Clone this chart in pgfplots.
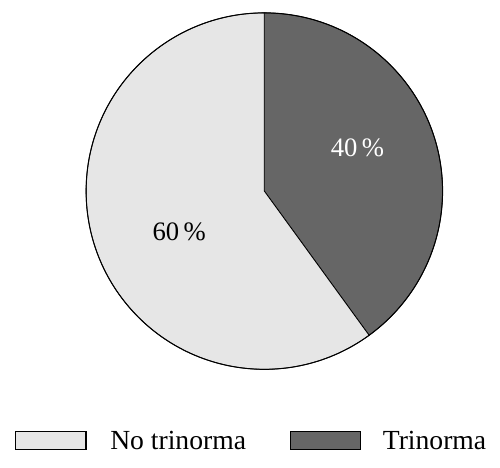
\documentclass[border=0pt]{standalone}
\usepackage{fontspec}
\setmainfont{Liberation Serif}
\usepackage{pgfplots}
\usepackage{pgfplotstable}
\pgfplotsset{compat=1.18}
\definecolor{pielight}{HTML}{E6E6E6}
\definecolor{piedark}{HTML}{666666}

\pgfplotstableread{
label value
Trinorma 40
NoTrinorma 60
}\piedata

\begin{document}
\pgfplotstablegetelem{0}{value}\of\piedata \let\vdark\pgfplotsretval
\pgfplotstablegetelem{1}{value}\of\piedata \let\vlight\pgfplotsretval
\pgfmathsetmacro{\adark}{90-3.6*\vdark}
\pgfmathsetmacro{\alight}{\adark-3.6*\vlight}
\begin{tikzpicture}
\begin{axis}[
  scale only axis,
  width=500bp, height=472bp,
  xmin=0, xmax=500, ymin=0, ymax=472,
  hide axis, clip=false,
  legend columns=2,
  legend image code/.code={\draw (0bp,-9bp) rectangle (71bp,9bp);},
  legend style={draw=none, fill=none, at={(axis cs:10,27)}, anchor=west,
    font=\fontsize{28}{30}\selectfont, inner sep=0pt,
    nodes={inner sep=0pt, anchor=west},
    /tikz/every even column/.append style={column sep=44bp}},
  legend cell align=left,
]
\path (axis cs:0,0) rectangle (axis cs:500,472);
% slices
\fill[piedark, draw=black, line width=0.8pt] (axis cs:262,279) -- ++(90:180bp) arc[start angle=90, end angle=\adark, radius=180bp] -- cycle;
\fill[pielight, draw=black, line width=0.8pt] (axis cs:262,279) -- ++(\adark:180bp) arc[start angle=\adark, end angle=\alight, radius=180bp] -- cycle;
\draw[line width=1pt] (axis cs:262,279) circle[radius=180bp];
\node[white, font=\fontsize{27}{30}\selectfont] at (axis cs:356,323) {\vdark\,\%};
\node[black, font=\fontsize{27}{30}\selectfont] at (axis cs:176,238) {\vlight\,\%};
\addlegendimage{fill=pielight, draw=black, line width=1.2pt}
\addlegendentry{\hspace{24bp}No trinorma}
\addlegendimage{fill=piedark, draw=black, line width=1.2pt}
\addlegendentry{\hspace{22bp}Trinorma}
\end{axis}
\end{tikzpicture}
\end{document}
